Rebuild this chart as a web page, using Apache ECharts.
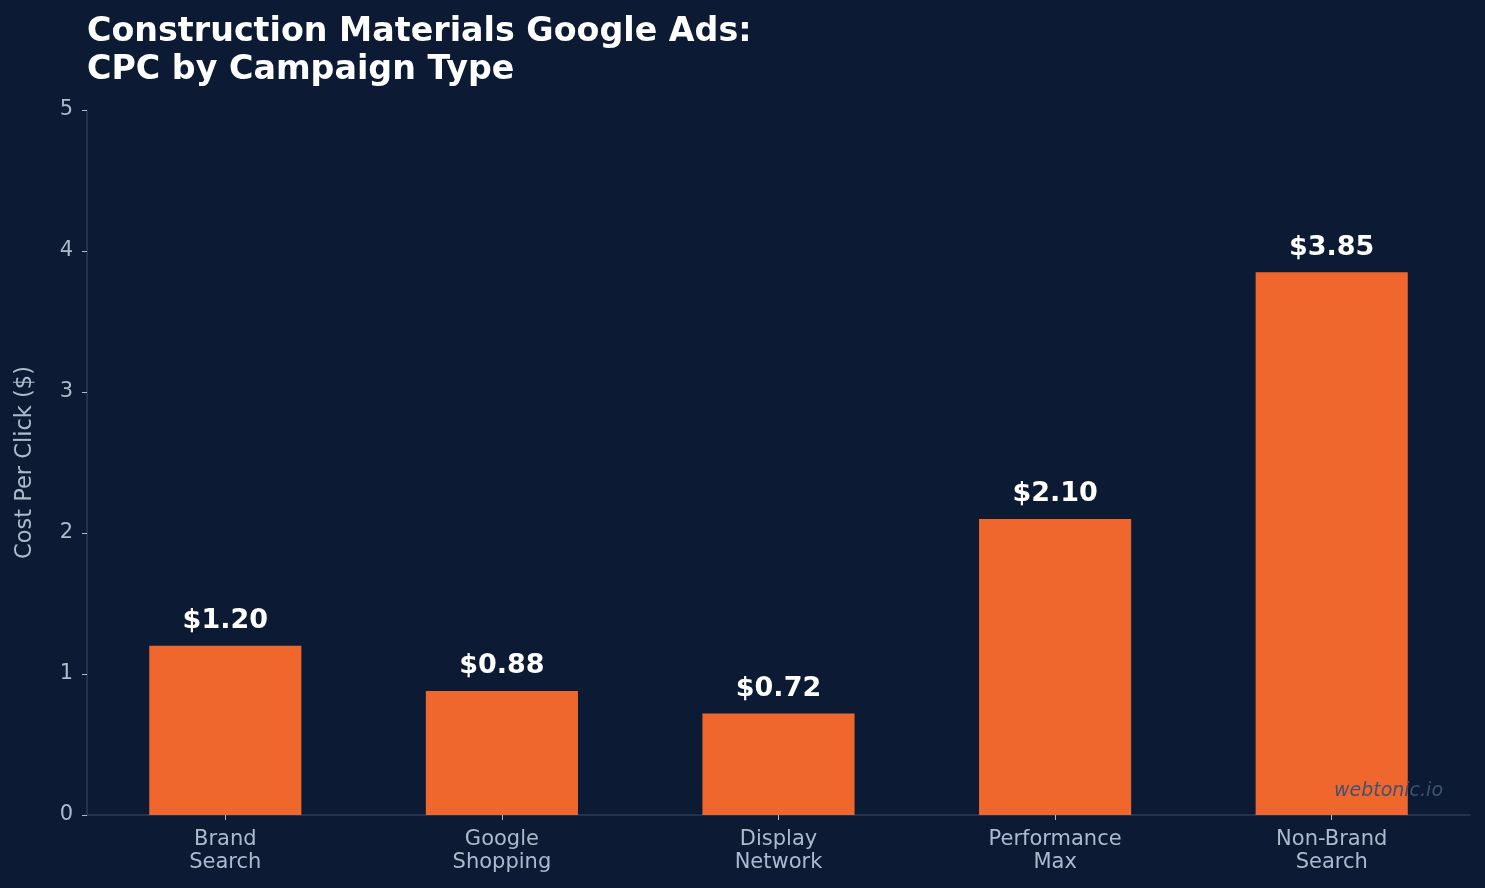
<!DOCTYPE html>
<html>
<head>
<meta charset="utf-8">
<script src="https://cdn.jsdelivr.net/npm/echarts@6/dist/echarts.min.js"></script>
<style>
  html, body { margin: 0; padding: 0; background: #0c1b33; }
  #chart { width: 1485px; height: 888px; }
</style>
</head>
<body>
<div id="chart"></div>
<script>
// Data
const categories = ['Brand\nSearch', 'Google\nShopping', 'Display\nNetwork', 'Performance\nMax', 'Non-Brand\nSearch'];
const cpcValues = [1.20, 0.88, 0.72, 2.10, 3.85];
const yTicks = { min: 0, max: 5, interval: 1 };

const chart = echarts.init(document.getElementById('chart'));
const font = '"DejaVu Sans", sans-serif';
const tickColor = '#adbacc';
const lineColor = '#2c3c57';

const option = {
  backgroundColor: '#0c1b33',
  animation: false,
  textStyle: { fontFamily: font },
  title: {
    text: 'Construction Materials Google Ads:\nCPC by Campaign Type',
    left: 82,
    top: 8,
    textStyle: {
      color: '#ffffff',
      fontSize: 33.3,
      fontWeight: 'bold',
      fontFamily: font,
      lineHeight: 38
    }
  },
  grid: { left: 87, right: 15, top: 110, bottom: 73 },
  xAxis: {
    type: 'category',
    data: categories,
    axisLine: { lineStyle: { color: lineColor, width: 1.5 } },
    axisTick: { show: true, alignWithLabel: true, length: 5, lineStyle: { color: tickColor } },
    axisLabel: { color: tickColor, fontSize: 21, lineHeight: 23, margin: 13, fontFamily: font }
  },
  yAxis: {
    type: 'value',
    min: yTicks.min,
    max: yTicks.max,
    interval: yTicks.interval,
    name: 'Cost Per Click ($)',
    nameLocation: 'middle',
    nameGap: 50,
    nameTextStyle: { color: tickColor, fontSize: 22.5, fontFamily: font },
    axisLine: { show: true, lineStyle: { color: lineColor, width: 1.5 } },
    axisTick: { show: true, length: 5, lineStyle: { color: tickColor } },
    axisLabel: { color: tickColor, fontSize: 21, margin: 14, fontFamily: font },
    splitLine: { show: false }
  },
  series: [{
    type: 'bar',
    data: cpcValues,
    barWidth: '55%',
    itemStyle: { color: '#f0672e' },
    label: {
      show: true,
      position: 'top',
      distance: 11,
      color: '#ffffff',
      fontSize: 27,
      fontWeight: 'bold',
      fontFamily: font,
      formatter: p => '$' + p.value.toFixed(2)
    }
  }],
  graphic: [{
    type: 'text',
    right: 42,
    top: 782,
    z: 100,
    style: {
      text: 'webtonic.io',
      fill: '#3e5272',
      font: 'italic 19px "DejaVu Sans", sans-serif'
    }
  }]
};

chart.setOption(option);
</script>
</body>
</html>
